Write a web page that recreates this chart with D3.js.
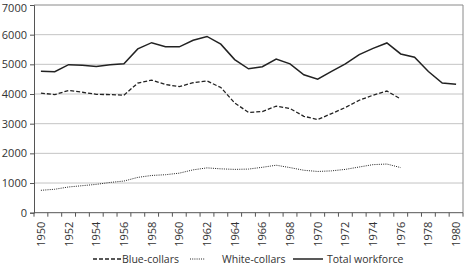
<!DOCTYPE html>
<html><head><meta charset="utf-8">
<script src="https://cdn.jsdelivr.net/npm/d3@7"></script>
<style>
body{margin:0;background:#fff;}
text{font-family:"Open Sans","Noto Sans",sans-serif;fill:#333;}
</style></head><body>
<svg id="c" width="467" height="274"></svg>
<script>
const years = d3.range(1950, 1981).map(String);
const yTicks = [0,1000,2000,3000,4000,5000,6000,7000];
const xTickLabels = d3.range(1950, 1981, 2).map(String);
const blueCollars = [4030,3980,4120,4060,3990,3980,3960,4370,4470,4320,4250,4380,4440,4220,3700,3380,3410,3590,3510,3250,3140,3340,3545,3790,3960,4100,3830];
const whiteCollars = [755,790,867,911,955,1020,1067,1190,1255,1280,1333,1444,1511,1478,1460,1470,1530,1600,1520,1430,1390,1410,1460,1540,1620,1640,1520];
const totalWorkforce = [4770,4750,4990,4970,4930,4990,5020,5520,5730,5590,5590,5810,5940,5680,5160,4850,4920,5180,5015,4650,4500,4760,5015,5330,5540,5720,5350,5240,4760,4370,4330];

const svg = d3.select("#c");
const L=34, R=463, T=5, B=212.7;
const x = d3.scaleBand().domain(years).range([L,R]);
const y = d3.scaleLinear().domain([0,7000]).range([B,T]);

// gridlines
svg.append("g").selectAll("line").data(yTicks.slice(1,-1)).join("line")
  .attr("x1",L).attr("x2",R).attr("y1",d=>y(d)).attr("y2",d=>y(d))
  .attr("stroke","#c4c4c4").attr("stroke-width",1);
// top and right border
svg.append("line").attr("x1",L).attr("x2",R).attr("y1",y(7000)).attr("y2",y(7000)).attr("stroke","#8a8a8a");
svg.append("line").attr("x1",R).attr("x2",R).attr("y1",T).attr("y2",B).attr("stroke","#8a8a8a");

// y axis
const ya = svg.append("g").attr("transform",`translate(${L},0)`)
  .call(d3.axisLeft(y).tickValues(yTicks).tickSize(4).tickPadding(3).tickFormat(d3.format("d")));
ya.select(".domain").attr("stroke","#555");
ya.selectAll(".tick line").attr("stroke","#555");
ya.selectAll("text").attr("font-size","11px").attr("fill","#333");
ya.selectAll(".tick").filter(d=>d===7000).select("text").attr("dy","0.62em");

// x axis with band boundary ticks
const xa = svg.append("g").attr("transform",`translate(0,${B})`);
xa.append("line").attr("x1",L).attr("x2",R).attr("stroke","#555");
const bounds = years.map(d=>x(d)).concat([R]);
xa.selectAll("line.tk").data(bounds).join("line").attr("class","tk")
  .attr("x1",d=>d).attr("x2",d=>d).attr("y1",0).attr("y2",4).attr("stroke","#555");
xa.selectAll("text").data(xTickLabels).join("text")
  .attr("transform",d=>`translate(${x(d)+x.bandwidth()/2+4},9) rotate(-90)`)
  .attr("text-anchor","end").attr("font-size","11px").text(d=>d);

const line = d3.line().x((d,i)=>x(years[i])+x.bandwidth()/2).y(d=>y(d));
svg.append("path").datum(blueCollars).attr("d",line).attr("fill","none")
  .attr("stroke","#222").attr("stroke-width",1.3).attr("stroke-dasharray","4,2");
svg.append("path").datum(whiteCollars).attr("d",line).attr("fill","none")
  .attr("stroke","#222").attr("stroke-width",1).attr("stroke-dasharray","1,1.2");
svg.append("path").datum(totalWorkforce).attr("d",line).attr("fill","none")
  .attr("stroke","#222").attr("stroke-width",1.5);

// legend
const legend = [
  {name:"Blue-collars", x1:93, x2:121, dash:"4,2", w:1.3},
  {name:"White-collars", x1:190, x2:205, dash:"1,1.2", w:1},
  {name:"Total workforce", x1:293, x2:323, dash:null, w:1.5}
];
const ly = 263;
const lg = svg.append("g");
legend.forEach(l=>{
  lg.append("line").attr("x1",l.x1).attr("x2",l.x2).attr("y1",ly-4).attr("y2",ly-4)
    .attr("stroke","#222").attr("stroke-width",l.w).attr("stroke-dasharray",l.dash);
});
lg.append("text").attr("x",122).attr("y",ly).attr("font-size","10.5px").text("Blue-collars");
lg.append("text").attr("x",222).attr("y",ly).attr("font-size","10.5px").text("White-collars");
lg.append("text").attr("x",327).attr("y",ly).attr("font-size","10.5px").text("Total workforce");
</script></body></html>
